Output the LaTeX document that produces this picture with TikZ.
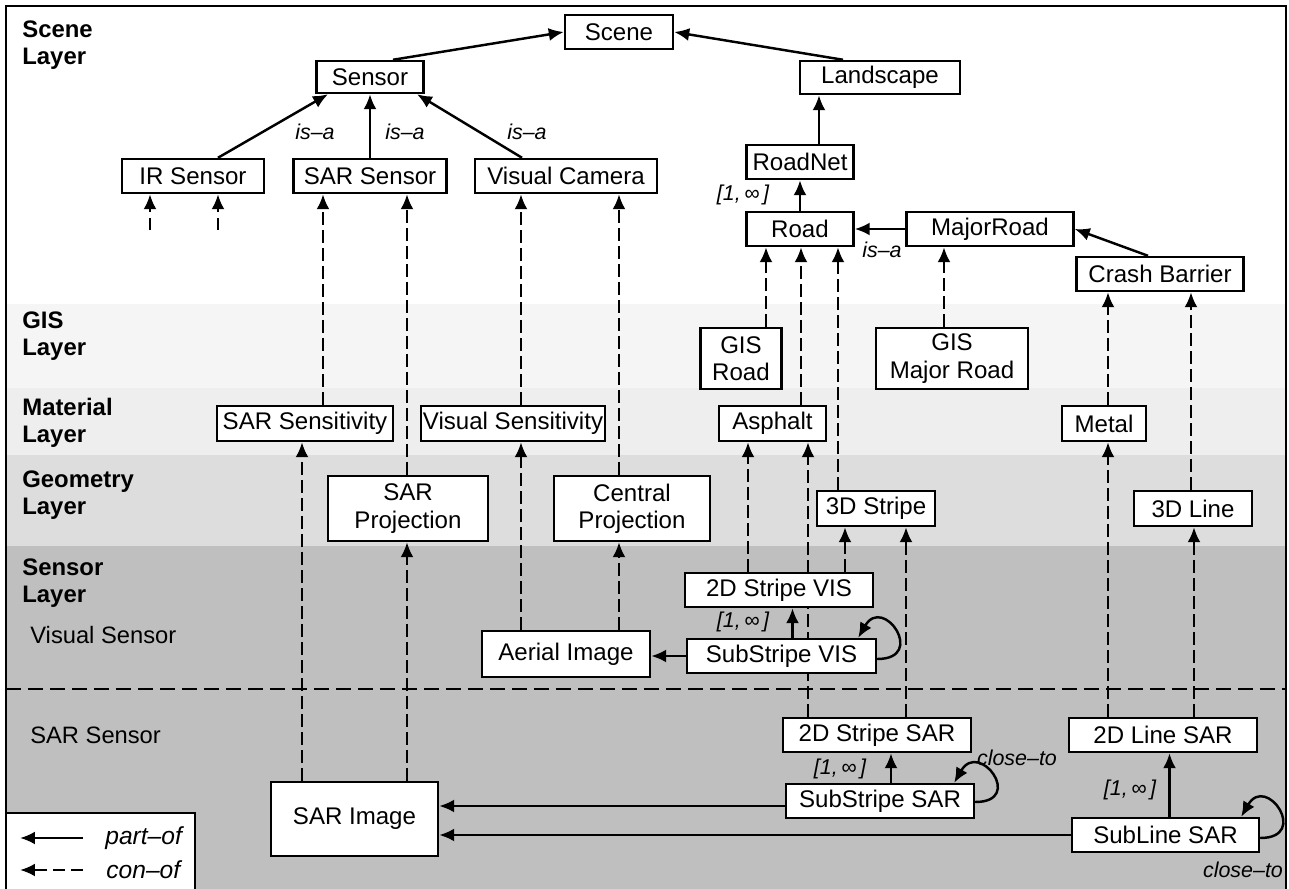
\documentclass[tikz,border=0pt]{standalone}
\usepackage{fontspec}
\setmainfont{Liberation Sans}
\usetikzlibrary{arrows.meta}
\pgfdeclarelayer{bands}
\pgfdeclarelayer{wires}
\pgfsetlayers{bands,wires,main}
\definecolor{gisband}{HTML}{F5F5F5}
\definecolor{matband}{HTML}{EEEEEE}
\definecolor{geoband}{HTML}{DDDDDD}
\definecolor{senband}{HTML}{BFBFBF}
\tikzset{
  box/.style={draw, fill=white, line width=1.4pt, inner sep=1pt, minimum height=0.68cm,
    align=center, font=\fontsize{13.7}{15.5}\selectfont},
  partof/.style={line width=1.4pt, -{Latex[length=0.3cm,width=0.26cm]}},
  conof/.style={partof, dash pattern=on 0.25cm off 0.11cm},
  rel/.style={font=\fontsize{12.2}{14}\selectfont\itshape, inner sep=0pt},
  layer/.style={font=\fontsize{13.6}{15.3}\selectfont\bfseries, align=left, anchor=west, inner sep=0pt},
  sub/.style={font=\fontsize{13.5}{15}\selectfont, anchor=west, inner sep=0pt},
}
\begin{document}
\begin{tikzpicture}[x=0.02cm, y=-0.02cm]
        \useasboundingbox (0,0) rectangle (1289,889);
        % layer bands
        \begin{pgfonlayer}{bands}
            \fill[white] (6,6) rectangle (1286,304);
            \fill[gisband] (6,304) rectangle (1286,388);
            \fill[matband] (6,388) rectangle (1286,455);
            \fill[geoband] (6,455) rectangle (1286,546);
            \fill[senband] (6,546) rectangle (1286,900);
        \end{pgfonlayer}
        \foreach \n/\t/\y in {lScene/Scene/45, lGIS/GIS/336, lMat/Material/423, lGeo/Geometry/495, lSen/Sensor/583} {
            \node[layer] (\n) at (22,\y) {\t\\Layer};
        };
        \node[sub] (visSub) at (30,635) {Visual Sensor};
        \node[sub] (sarSub) at (30,735) {SAR Sensor};
        % scene layer
        \node[box, minimum width=2.16cm] (Scene) at (619,32) {Scene};
        \node[box, minimum width=2.14cm, minimum height=0.64cm] (Sensor) at (370,77) {Sensor};
        \node[box, minimum width=3.2cm, minimum height=0.66cm] (Landscape) at (880,77.5) {Landscape};
        \node[box, minimum width=2.84cm] (IRSensor) at (193,176) {IR Sensor};
        \node[box, minimum width=3.06cm] (SARSensor) at (370,176) {SAR Sensor};
        \node[box, minimum width=3.64cm] (VisCamera) at (566,176) {Visual Camera};
        \node[box, minimum width=2.14cm] (RoadNet) at (800,162) {RoadNet};
        \node[box, minimum width=2.14cm] (Road) at (800,229) {Road};
        \node[box, minimum width=3.34cm] (MajorRoad) at (990,229) {MajorRoad};
        \node[box, minimum width=3.34cm] (CrashBarrier) at (1160,274) {Crash Barrier};
        % gis, material, geometry
        \node[box, minimum width=1.62cm, minimum height=1.22cm] (GISRoad) at (741,358.5) {GIS\\Road};
        \node[box, minimum width=3.04cm, minimum height=1.22cm] (GISMajor) at (952,358.5) {GIS\\Major Road};
        \node[box, minimum width=3.52cm, minimum height=0.7cm] (SARSens) at (305,423.5) {SAR Sensitivity};
        \node[box, minimum width=3.64cm, minimum height=0.7cm] (VisSens) at (513,423.5) {Visual Sensitivity};
        \node[box, minimum width=2.14cm, minimum height=0.7cm] (Asphalt) at (772.5,423.5) {Asphalt};
        \node[box, minimum width=1.68cm, minimum height=0.7cm] (Metal) at (1104,423.5) {Metal};
        \node[box, minimum width=3.2cm, minimum height=1.3cm] (SARProj) at (408,508.5) {SAR\\Projection};
        \node[box, minimum width=3.12cm, minimum height=1.3cm] (CentProj) at (632,508.5) {Central\\Projection};
        \node[box, minimum width=2.36cm, minimum height=0.7cm] (Stripe3D) at (876,508.5) {3D Stripe};
        \node[box, minimum width=2.36cm, minimum height=0.7cm] (Line3D) at (1193,508.5) {3D Line};
        % sensor layer
        \node[box, minimum width=3.76cm] (StripeVIS) at (779,590) {2D Stripe VIS};
        \node[box, minimum width=3.78cm] (SubStripeVIS) at (781.5,656) {SubStripe VIS};
        \node[box, minimum width=3.36cm, minimum height=0.92cm] (Aerial) at (566,654) {Aerial Image};
        \node[box, minimum width=3.76cm] (StripeSAR) at (877,735) {2D Stripe SAR};
        \node[box, minimum width=3.76cm] (SubStripeSAR) at (880,801) {SubStripe SAR};
        \node[box, minimum width=3.76cm] (LineSAR) at (1163,735) {2D Line SAR};
        \node[box, minimum width=3.74cm] (SubLineSAR) at (1165.5,835) {SubLine SAR};
        \node[box, minimum width=3.34cm, minimum height=1.48cm] (SARImage) at (354.5,819) {SAR Image};
        % con-of links
        \coordinate (irStubA) at (150,230);
        \coordinate (irStubB) at (218,230);
        \begin{pgfonlayer}{wires}
            \draw[line width=1.4pt, dash pattern=on 0.3cm off 0.14cm] (6,689) -- (1286,689);
            \draw[conof] (irStubA) -- (IRSensor.south -| irStubA);
            \draw[conof] (irStubB) -- (IRSensor.south -| irStubB);
            \foreach \a/\b/\x in {SARSens/SARSensor/323, SARProj/SARSensor/407, VisSens/VisCamera/521,
                CentProj/VisCamera/619, GISRoad/Road/766, Asphalt/Road/801, Stripe3D/Road/838,
                GISMajor/MajorRoad/944, Metal/CrashBarrier/1108, Line3D/CrashBarrier/1191,
                SARImage/SARSens/302, SARImage/SARProj/407, Aerial/VisSens/521, Aerial/CentProj/619,
                StripeVIS/Asphalt/748, StripeSAR/Asphalt/808, StripeVIS/Stripe3D/845,
                StripeSAR/Stripe3D/906, LineSAR/Metal/1108, LineSAR/Line3D/1194} {
                \draw[conof] (\a.north -| \x,0) -- (\b.south -| \x,0);
            };
        \end{pgfonlayer}
        % part-of and is-a links
        \draw[partof] ([xshift=0.46cm]Sensor.north) -- (Scene.west);
        \draw[partof] ([xshift=-0.74cm]Landscape.north) -- (Scene.east);
        \draw[partof] ([xshift=0.5cm]IRSensor.north) -- ([xshift=-0.84cm]Sensor.south);
        \draw[partof] (SARSensor.north) -- (Sensor.south);
        \draw[partof] ([xshift=-0.88cm]VisCamera.north) -- ([xshift=0.94cm]Sensor.south);
        \draw[partof] ([xshift=0.38cm]RoadNet.north) -- ([xshift=0.38cm]RoadNet.north |- Landscape.south);
        \draw[partof] (Road.north) -- (RoadNet.south);
        \draw[partof] (MajorRoad.west) -- (Road.east);
        \draw[partof] ([xshift=-0.24cm]CrashBarrier.north) -- (MajorRoad.east);
        \draw[partof] ([xshift=0.22cm]SubStripeVIS.north) -- ([xshift=0.22cm]SubStripeVIS.north |- StripeVIS.south);
        \draw[partof] (SubStripeVIS.west) -- (SubStripeVIS.west -| Aerial.east);
        \draw[partof] ([xshift=0.22cm]SubStripeSAR.north) -- ([xshift=0.22cm]SubStripeSAR.north |- StripeSAR.south);
        \draw[partof] ([yshift=-0.1cm]SubStripeSAR.west) -- ([yshift=-0.1cm]SubStripeSAR.west -| SARImage.east);
        \draw[partof] (SubLineSAR.west) -- (SubLineSAR.west -| SARImage.east);
        \draw[partof] ([xshift=0.08cm]SubLineSAR.north) -- ([xshift=0.08cm]SubLineSAR.north |- LineSAR.south);
        \draw[partof] ([yshift=-0.06cm]SubStripeVIS.east) to[out=0,in=60,looseness=4.5] ([xshift=-0.38cm]SubStripeVIS.north east);
        \draw[partof] ([yshift=-0.02cm]SubStripeSAR.east) to[out=0,in=60,looseness=4.5] ([xshift=-0.42cm]SubStripeSAR.north east);
        \draw[partof] ([yshift=-0.06cm]SubLineSAR.east) to[out=0,in=60,looseness=4.5] ([xshift=-0.38cm]SubLineSAR.north east);
        % link labels
        \node[rel] (isaIR) at (315,132) {is–a};
        \node[rel] (isaSAR) at (405,132) {is–a};
        \node[rel] (isaVis) at (527,132) {is–a};
        \node[rel] (isaMajor) at (882,250) {is–a};
        \node[rel] (cardRoad) at (743,195) {[1,\,∞\,]};
        \node[rel] (cardVIS) at (743,622) {[1,\,∞\,]};
        \node[rel] (cardSAR) at (840,769) {[1,\,∞\,]};
        \node[rel] (cardLine) at (1130,790) {[1,\,∞\,]};
        \node[rel] (closeSS) at (1017,758) {close–to};
        \node[rel] (closeSL) at (1243,870) {close–to};
        % legend
        \draw[line width=1.4pt, fill=white] (6,813) rectangle (195,900);
        \coordinate (lgA) at (83,838);
        \coordinate (lgB) at (20,838);
        \coordinate (lgC) at (83,870);
        \coordinate (lgD) at (20,870);
        \draw[partof] (lgA) -- (lgB);
        \draw[conof] (lgC) -- (lgD);
        \node[rel, anchor=west, font=\fontsize{14}{16}\selectfont\itshape] (lgPart) at (105,838) {part–of};
        \node[rel, anchor=west, font=\fontsize{14}{16}\selectfont\itshape] (lgCon) at (106,870) {con–of};
        % frame
        \draw[line width=1.6pt] (6,6) rectangle (1286,900);
    \end{tikzpicture}
\end{document}
